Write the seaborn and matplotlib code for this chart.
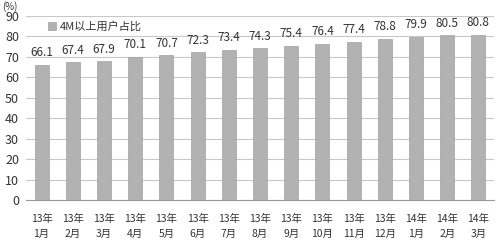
import matplotlib
matplotlib.use("Agg")
import matplotlib.pyplot as plt
import seaborn as sns
import pandas as pd

categories = ["13年\n1月", "13年\n2月", "13年\n3月", "13年\n4月", "13年\n5月", "13年\n6月",
              "13年\n7月", "13年\n8月", "13年\n9月", "13年\n10月", "13年\n11月", "13年\n12月",
              "14年\n1月", "14年\n2月", "14年\n3月"]
values = [66.1, 67.4, 67.9, 70.1, 70.7, 72.3, 73.4, 74.3, 75.4, 76.4, 77.4, 78.8, 79.9, 80.5, 80.8]
series_name = "4M以上用户占比"
yticks = [0, 10, 20, 30, 40, 50, 60, 70, 80, 90]

sns.set_style("white")
plt.rcParams['font.family'] = ['Noto Sans CJK SC', 'DejaVu Sans']

df = pd.DataFrame({"cat": categories, "val": values, "series": series_name})

fig = plt.figure(figsize=(5, 2.45), dpi=100)
ax = fig.add_axes([0.052, 0.1837, 0.936, 0.751])
sns.barplot(data=df, x="cat", y="val", hue="series", palette=["#b2b2b2"], width=0.45,
            edgecolor="#a0a0a0", linewidth=0.5, ax=ax, zorder=3)

ax.set_ylim(0, 90)
ax.set_yticks(yticks)
ax.yaxis.grid(True, color="#c8c8c8", linewidth=0.8, zorder=0)
ax.set_axisbelow(True)
for s in ["left", "right", "top"]:
    ax.spines[s].set_visible(False)
ax.spines["bottom"].set_color("#999999")
ax.spines["bottom"].set_linewidth(0.8)
ax.set_xlim(-0.5, len(categories) - 0.5)
ax.set_xlabel("")
ax.set_ylabel("")

ax.tick_params(axis="y", length=0, labelsize=9, colors="#333333", pad=5)
ax.tick_params(axis="x", length=0, labelsize=7.5, colors="#333333", pad=10)
for lbl in ax.get_xticklabels():
    lbl.set_linespacing(1.6)
# minor ticks between categories
ax.set_xticks([i + 0.5 for i in range(-1, len(categories))], minor=True)
ax.tick_params(axis="x", which="minor", length=3, color="#999999", direction="out")

for c in ax.containers:
    ax.bar_label(c, labels=[f"{v:.1f}" for v in values], padding=4, fontsize=8.5, color="#333333")

ax.text(-0.035, 1.02, "(%)", transform=ax.transAxes, fontsize=7, color="#333333", ha="center", va="bottom")

leg = ax.legend(loc="upper left", bbox_to_anchor=(0.038, 0.995), frameon=False, fontsize=8,
                handlelength=0.7, handleheight=0.7, handletextpad=0.3, borderaxespad=0)
for t in leg.get_texts():
    t.set_color("#333333")

fig.savefig("out.png", dpi=100)
